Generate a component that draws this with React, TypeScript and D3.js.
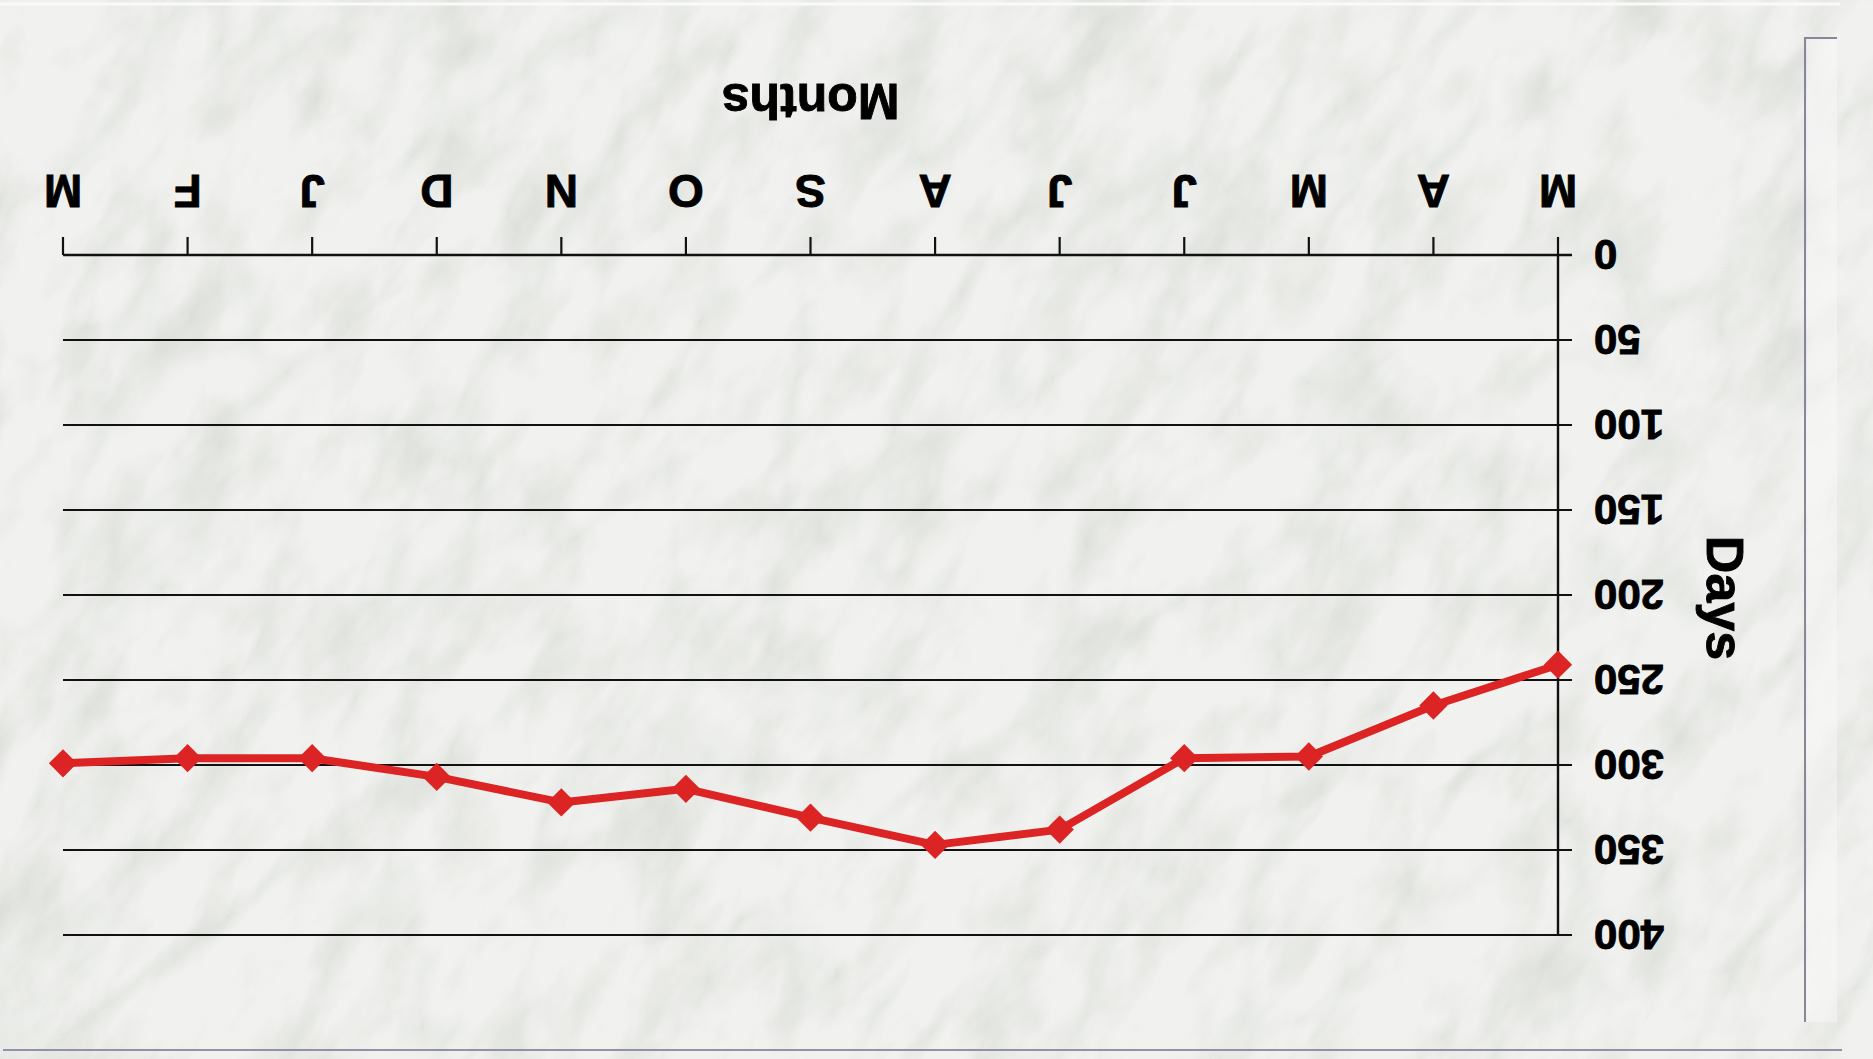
import React from "react";
import * as d3 from "d3";

const months = ["M", "A", "M", "J", "J", "A", "S", "O", "N", "D", "J", "F", "M"];
const days = [241, 265, 295, 296, 338, 347, 331, 314, 322, 307, 296, 296, 299];
const yTicks = [0, 50, 100, 150, 200, 250, 300, 350, 400];
const xTitle = "Months";
const yTitle = "Days";

const W = 1873;
const H = 1059;

export default function App() {
  const x = d3
    .scalePoint<number>()
    .domain(months.map((_, i) => i))
    .range([315, 1810]);
  const y = d3.scaleLinear().domain([0, 400]).range([804, 124]);

  const line = d3
    .line<number>()
    .x((_, i) => x(i) as number)
    .y((d) => y(d));

  const marker = d3.symbol().type(d3.symbolSquare).size(400)();
  const font = "'Liberation Sans', Arial, Helvetica, sans-serif";
  const x0 = x(0) as number;
  const xN = x(months.length - 1) as number;
  const textStroke = { stroke: "#000", strokeWidth: 0.9 };

  return (
    <svg
      width={W}
      height={H}
      style={{ position: "absolute", left: 0, top: 0, display: "block" }}
    >
      <defs>
        <filter id="veins" x="0" y="0" width="100%" height="100%">
          <feTurbulence
            type="turbulence"
            baseFrequency="0.004 0.009"
            numOctaves="4"
            seed="3"
            result="n"
          />
          <feColorMatrix
            in="n"
            type="matrix"
            values="0 0 0 0 0.55  0 0 0 0 0.58  0 0 0 0 0.54  -3.2 0 0 0 0.95"
          />
        </filter>
        <filter id="mottle" x="0" y="0" width="100%" height="100%">
          <feTurbulence
            type="fractalNoise"
            baseFrequency="0.01 0.02"
            numOctaves="4"
            seed="11"
            result="m"
          />
          <feColorMatrix
            in="m"
            type="matrix"
            values="0 0 0 0 0.6  0 0 0 0 0.62  0 0 0 0 0.58  0 0 0 -2.2 1.15"
          />
        </filter>
      </defs>
      <rect x={0} y={0} width={W} height={H} fill="#f1f2ef" />
      <g transform={`rotate(-60 ${W / 2} ${H / 2})`}>
        <rect
          x={W / 2 - 1300}
          y={H / 2 - 1300}
          width={2600}
          height={2600}
          filter="url(#mottle)"
          opacity={0.45}
        />
        <rect
          x={W / 2 - 1300}
          y={H / 2 - 1300}
          width={2600}
          height={2600}
          filter="url(#veins)"
          opacity={0.3}
        />
      </g>
      {/* scan artifacts / frame */}
      <rect x={1807} y={38} width={30} height={984} fill="#f8f8f7" opacity={0.55} />
      <line x1={0} x2={1840} y1={4} y2={4} stroke="#fafafa" strokeWidth={3} />
      <path d="M1837,38 H1805 V1022" fill="none" stroke="#8a8598" strokeWidth={2} />
      <line x1={3} x2={1842} y1={1050} y2={1050} stroke="#9690a6" strokeWidth={2} />

      <g transform={`rotate(180 ${W / 2} ${H / 2})`} fontFamily={font} fontWeight="bold">
        {/* gridlines & y ticks */}
        {yTicks.map((t) => (
          <g key={t}>
            <line
              x1={x0 - 14}
              x2={xN}
              y1={y(t)}
              y2={y(t)}
              stroke="#111"
              strokeWidth={t === 0 ? 2.6 : 2.2}
            />
            <text
              x={x0 - 36}
              y={y(t)}
              dy="0.36em"
              textAnchor="end"
              fontSize={42}
              fill="#000"
              {...textStroke}
            >
              {t}
            </text>
          </g>
        ))}
        {/* y axis */}
        <line x1={x0} x2={x0} y1={y(0)} y2={y(400)} stroke="#111" strokeWidth={2.4} />
        {/* x ticks & labels */}
        {months.map((m, i) => (
          <g key={i}>
            <line
              x1={x(i)}
              x2={x(i)}
              y1={y(0)}
              y2={y(0) + 18}
              stroke="#111"
              strokeWidth={2.2}
            />
            <text
              x={x(i)}
              y={884}
              textAnchor="middle"
              fontSize={46}
              fill="#000"
              {...textStroke}
            >
              {m}
            </text>
          </g>
        ))}
        <text
          x={(x0 + xN) / 2}
          y={975}
          textAnchor="middle"
          fontSize={50}
          fill="#000"
          {...textStroke}
        >
          {xTitle}
        </text>
        <text
          transform={`translate(166, 461) rotate(-90)`}
          textAnchor="middle"
          fontSize={52}
          fill="#000"
          {...textStroke}
        >
          {yTitle}
        </text>
        {/* series */}
        <path
          d={line(days) || ""}
          fill="none"
          stroke="#dc2424"
          strokeWidth={8}
          strokeLinejoin="round"
        />
        {days.map((d, i) => (
          <path
            key={i}
            d={marker || ""}
            transform={`translate(${x(i)}, ${y(d)}) rotate(45)`}
            fill="#dc2424"
          />
        ))}
      </g>
    </svg>
  );
}
